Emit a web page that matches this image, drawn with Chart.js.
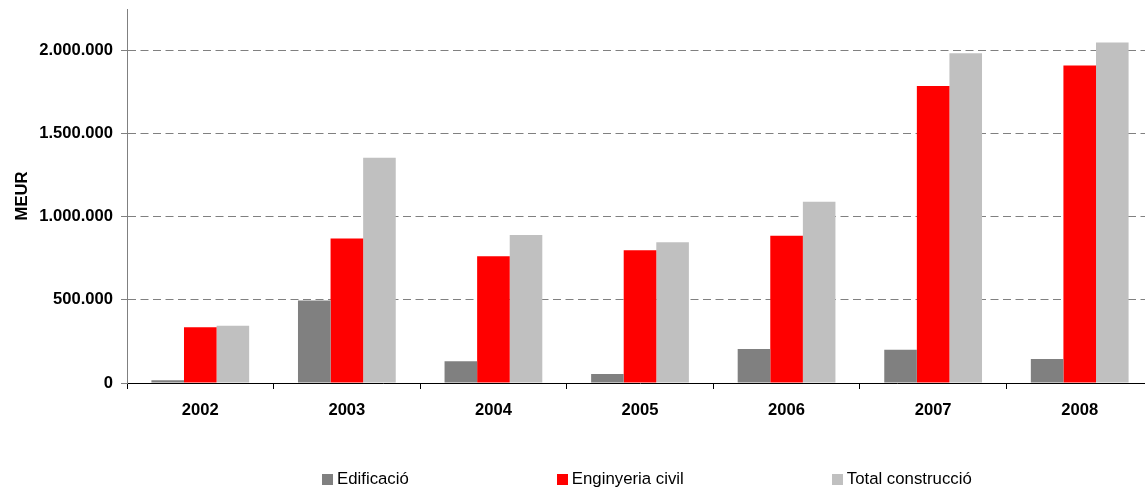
<!DOCTYPE html>
<html>
<head>
<meta charset="utf-8">
<script src="https://cdn.jsdelivr.net/npm/chart.js@4/dist/chart.umd.min.js"></script>
<style>
    html, body {
        margin: 0;
        padding: 0;
        width: 1145px;
        height: 490px;
        overflow: hidden;
        background: #ffffff;
    }
    #wrap {
        position: relative;
        width: 1160px;
        height: 490px;
    }
    #legend {
        position: absolute;
        left: 322px;
        top: 471px;
        display: flex;
        font-family: "Liberation Sans", Arial, sans-serif;
        font-size: 16.8px;
        color: #000;
        white-space: nowrap;
    }
    .legend-item {
        display: flex;
        align-items: center;
        height: 16px;
        margin-right: 148px;
    }
    .legend-box {
        width: 11px;
        height: 11px;
        margin-right: 4px;
    }
</style>
</head>
<body>
<div id="wrap">
    <canvas id="constructionChart" width="1160" height="490"></canvas>
    <div id="legend"></div>
</div>

<script>
const years = ["2002", "2003", "2004", "2005", "2006", "2007", "2008"];
const edificacio = [16000, 496000, 131000, 54000, 205000, 200000, 145000];
const enginyeriaCivil = [335000, 869000, 763000, 799000, 886000, 1787000, 1910000];
const totalConstruccio = [345000, 1355000, 890000, 847000, 1090000, 1984000, 2048000];

const yTicks = [0, 500000, 1000000, 1500000, 2000000];

function formatThousands(value) {
    return String(value).replace(/\B(?=(\d{3})+(?!\d))/g, ".");
}

const tickFont = {
    family: "'Liberation Sans', Arial, sans-serif",
    size: 16.6,
    weight: "bold"
};

const canvas = document.getElementById("constructionChart");

const constructionChart = new Chart(canvas, {
    type: "bar",
    data: {
        labels: years,
        datasets: [
            {
                label: "Edificació",
                data: edificacio,
                backgroundColor: "#808080"
            },
            {
                label: "Enginyeria civil",
                data: enginyeriaCivil,
                backgroundColor: "#ff0000"
            },
            {
                label: "Total construcció",
                data: totalConstruccio,
                backgroundColor: "#c0c0c0"
            }
        ]
    },
    options: {
        responsive: false,
        animation: false,
        layout: {
            padding: { top: 9, right: 7, bottom: 67, left: 0 }
        },
        datasets: {
            bar: {
                categoryPercentage: 0.667,
                barPercentage: 1,
                borderWidth: 0
            }
        },
        plugins: {
            legend: { display: false },
            tooltip: { enabled: false }
        },
        scales: {
            x: {
                grid: {
                    offset: true,
                    drawOnChartArea: false,
                    drawTicks: true,
                    tickLength: 6,
                    color: "#000000"
                },
                border: {
                    color: "#000000",
                    width: 1
                },
                ticks: {
                    padding: 11,
                    color: "#000000",
                    font: tickFont
                },
                afterFit(scale) {
                    scale.height = 40;
                }
            },
            y: {
                min: 0,
                max: 2250000,
                afterBuildTicks(scale) {
                    scale.ticks = yTicks.map(v => ({ value: v }));
                },
                grid: {
                    color: ctx => (ctx.tick && ctx.tick.value === 0) ? "rgba(0,0,0,0)" : "#808080",
                    tickColor: "#808080",
                    tickLength: 6,
                    lineWidth: 1
                },
                border: {
                    color: "#808080",
                    width: 1,
                    dash: [8, 4.5]
                },
                ticks: {
                    padding: 8,
                    color: "#000000",
                    font: tickFont,
                    callback: value => formatThousands(value)
                },
                title: {
                    display: true,
                    text: "MEUR",
                    color: "#000000",
                    padding: { top: 12, bottom: 0 },
                    font: tickFont
                },
                afterFit(scale) {
                    scale.width = 127;
                    scale.paddingTop = 0;
                    scale.paddingBottom = 0;
                }
            }
        }
    }
});

// html legend built from the chart's own datasets
const legendEl = document.getElementById("legend");
constructionChart.data.datasets.forEach(ds => {
    const item = document.createElement("div");
    item.className = "legend-item";
    const box = document.createElement("span");
    box.className = "legend-box";
    box.style.background = ds.backgroundColor;
    const text = document.createElement("span");
    text.textContent = ds.label;
    item.appendChild(box);
    item.appendChild(text);
    legendEl.appendChild(item);
});
</script>
</body>
</html>
